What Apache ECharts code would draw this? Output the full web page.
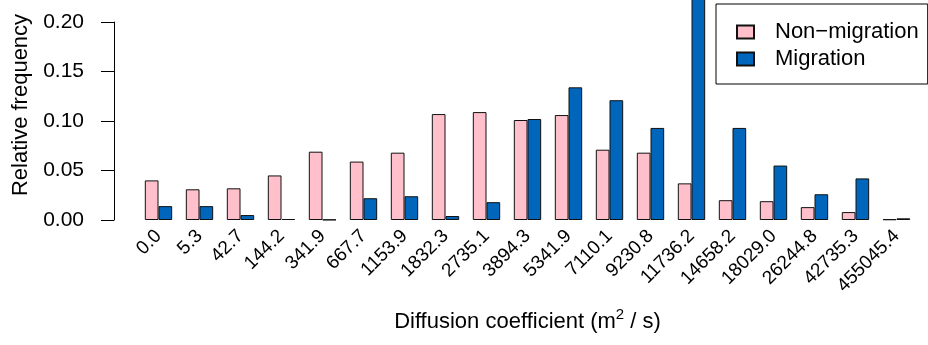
<!DOCTYPE html>
<html>
<head>
<meta charset="utf-8">
<script src="https://cdn.jsdelivr.net/npm/echarts@6/dist/echarts.min.js"></script>
<style>
  html, body { margin: 0; padding: 0; background: #fff; }
  #chart { width: 928px; height: 345px; }
</style>
</head>
<body>
<div id="chart"></div>
<script>
'use strict';
// diffusion coefficient bins (m^2/s)
var categories = ['0.0', '5.3', '42.7', '144.2', '341.9', '667.7', '1153.9', '1832.3',
    '2735.1', '3894.3', '5341.9', '7110.1', '9230.8', '11736.2', '14658.2', '18029.0',
    '26244.8', '42735.3', '455045.4'];
var nonMigration = [0.040, 0.031, 0.032, 0.045, 0.069, 0.059, 0.068, 0.107, 0.109, 0.101,
    0.106, 0.071, 0.068, 0.037, 0.020, 0.019, 0.013, 0.008, 0.0007];
var migration = [0.014, 0.014, 0.005, 0.001, 0.0003, 0.022, 0.024, 0.004, 0.018, 0.102,
    0.134, 0.121, 0.093, 0.26, 0.093, 0.055, 0.026, 0.042, 0.0017];
var yTicks = [0, 0.05, 0.10, 0.15, 0.20];

var FONT = 'Liberation Sans, Arial, sans-serif';

var myChart = echarts.init(document.getElementById('chart'));

var option = {
    animation: false,
    textStyle: { fontFamily: FONT, color: '#000' },
    grid: { left: 138, right: 11, top: 22, bottom: 125, containLabel: false },
    legend: {
        orient: 'vertical',
        left: 716,
        top: 4,
        padding: [17, 9, 14, 20],
        itemGap: 5,
        itemWidth: 17,
        itemHeight: 13,
        borderColor: '#000',
        borderWidth: 1,
        borderRadius: 0,
        icon: 'rect',
        textStyle: { fontSize: 22, fontFamily: FONT, color: '#000', lineHeight: 22, padding: [0, 0, 0, 16] },
        data: ['Non\u2212migration', 'Migration']
    },
    xAxis: {
        type: 'category',
        data: categories,
        axisLine: { show: false },
        axisTick: { show: false },
        axisLabel: { rotate: 45, fontSize: 19, margin: 13, color: '#000', interval: 0 },
        name: 'Diffusion coefficient (m{sup|2} / s)',
        nameLocation: 'middle',
        nameGap: 91,
        nameTextStyle: {
            fontSize: 22, color: '#000',
            rich: { sup: { fontSize: 15, lineHeight: 15, padding: [0, 0, 14, 0] } }
        }
    },
    yAxis: {
        type: 'value',
        min: yTicks[0],
        max: yTicks[yTicks.length - 1],
        interval: 0.05,
        offset: 24,
        splitLine: { show: false },
        axisLine: { show: true, lineStyle: { color: '#000', width: 1 } },
        axisTick: { show: true, length: 13, lineStyle: { color: '#000' } },
        axisLabel: {
            fontSize: 21, color: '#000', margin: 30,
            formatter: function (v) { return v.toFixed(2); }
        },
        name: 'Relative frequency',
        nameLocation: 'middle',
        nameRotate: 90,
        nameGap: 80,
        nameTextStyle: { fontSize: 22, color: '#000', padding: [0, 0, 0, 32] }
    },
    series: [
        {
            name: 'Non\u2212migration',
            type: 'bar',
            data: nonMigration,
            barGap: '0%',
            barCategoryGap: '33.3%',
            clip: false,
            itemStyle: { color: '#FFC0CB', borderColor: '#111', borderWidth: 1 }
        },
        {
            name: 'Migration',
            type: 'bar',
            data: migration,
            barGap: '0%',
            barCategoryGap: '33.3%',
            clip: false,
            itemStyle: { color: '#0066BB', borderColor: '#111', borderWidth: 1 }
        }
    ]
};

myChart.setOption(option);
window.onresize = function () {
    myChart.resize();
};
</script>
</body>
</html>
